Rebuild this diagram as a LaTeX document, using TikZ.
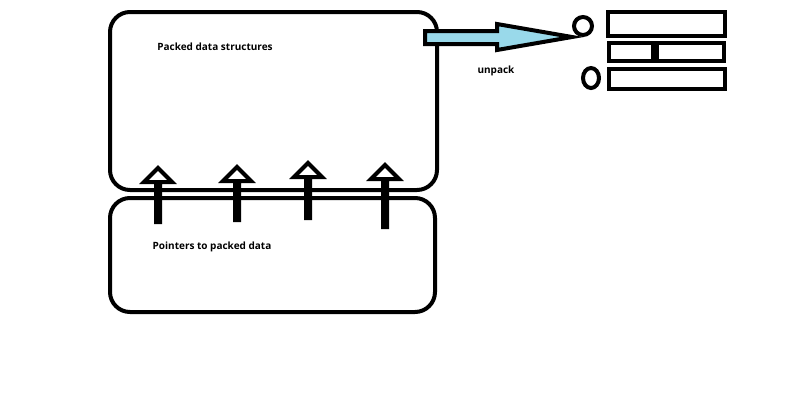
\documentclass[tikz,border=0pt]{standalone}
\usepackage{fontspec}
\setmainfont{Open Sans}
\usetikzlibrary{positioning,shapes.arrows}
\definecolor{unpackblue}{RGB}{153,217,234}

\begin{document}
\begin{tikzpicture}[x=1pt,y=-1pt,line width=4pt,
    box/.style={draw,rounded corners=20pt,inner sep=0pt},
    lbl/.style={font=\bfseries\fontsize{10}{12}\selectfont},
    uparrow/.style={single arrow,draw,fill=white,rotate=90,inner sep=0pt,
        minimum width=26pt,single arrow head extend=12pt,anchor=tail,
        single arrow tip angle=90}]
    \useasboundingbox (0,0) rectangle (800,400);

    \node[box,minimum width=327pt,minimum height=178pt] (packed) at (273.5,101) {};
    \node[box,minimum width=325pt,minimum height=114pt] (pointers) at (272.5,255) {};
    \node[lbl] (packedlbl) at (215,47) {Packed data structures};
    \node[lbl] (pointerslbl) at (212,247) {Pointers to packed data};

    \foreach \x/\tip/\bot [count=\i] in {158/170/224,237/169/222,308/165/220,385/167/229}
        \node[uparrow,minimum height=\bot-\tip] (ptr\i) at (\x,\bot) {};

    % unpack arrow
    \draw[fill=unpackblue,line join=miter] (425,31) -- (497,31) -- (497,24) -- (572,37)
        -- (497,50) -- (497,44) -- (425,44) -- cycle;
    \node[lbl] (unpack) at (496,71) {unpack};

    % unpacked fields
    \draw (583,26) ellipse (9 and 9);
    \draw (591,78) ellipse (8 and 10);
    \draw (608,12) rectangle (725,36);
    \draw (609,43) rectangle (653,61);
    \draw (657,43) rectangle (724,61);
    \draw (609,69) rectangle (725,89);
\end{tikzpicture}
\end{document}
